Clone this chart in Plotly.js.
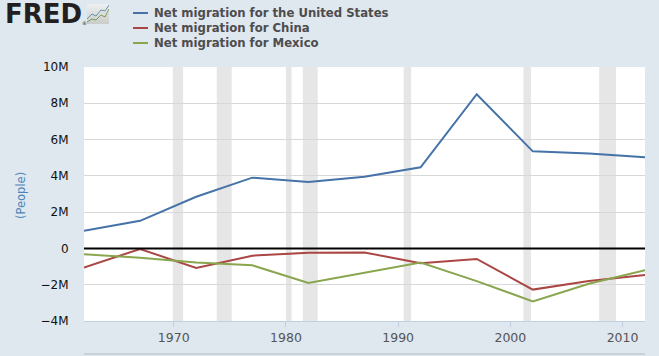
<!DOCTYPE html>
<html><head><meta charset="utf-8">
<script src="https://cdn.plot.ly/plotly-3.0.1.min.js"></script>
<style>html,body{margin:0;padding:0;background:#dfe7ef;overflow:hidden}</style>
</head><body><div id="chart" style="width:659px;height:356px"></div>
<script>
const years = ['1962-01-01','1967-01-01','1972-01-01','1977-01-01','1982-01-01','1987-01-01','1992-01-01','1997-01-01','2002-01-01','2007-01-01','2012-01-01'];
const usValues = [0.97,1.52,2.85,3.9,3.66,3.95,4.47,8.5,5.35,5.23,5.02];
const chinaValues = [-1.05,-0.03,-1.08,-0.4,-0.24,-0.22,-0.82,-0.58,-2.27,-1.8,-1.47];
const mexicoValues = [-0.32,-0.52,-0.78,-0.93,-1.9,-1.35,-0.78,-1.8,-2.92,-1.95,-1.2];
const seriesNames = ['Net migration for the United States','Net migration for China','Net migration for Mexico'];
const seriesColors = ['#4572a7','#aa4643','#89a54e'];
const recessions = [['1969-12-01','1970-11-01'],['1973-11-01','1975-03-01'],['1980-01-01','1980-07-01'],['1981-07-01','1982-11-01'],['1990-07-01','1991-03-01'],['2001-03-01','2001-11-01'],['2007-12-01','2009-06-01']];
const yTicks = [-4,-2,0,2,4,6,8,10];
const yLabels = ['−4M','−2M','0','2M','4M','6M','8M','10M'];
const xTicks = ['1970-01-01','1980-01-01','1990-01-01','2000-01-01','2010-01-01'];
const xLabels = ['1970','1980','1990','2000','2010'];

const font = 'Verdana, "DejaVu Sans", sans-serif';
const W = 659, H = 356, L = 84, R = 14, T = 67, B = 35;
const px = x => (x - L) / (W - L - R);
const py = y => 1 - (y - T) / (H - T - B);

const icon = 'data:image/svg+xml;utf8,' + encodeURIComponent('<svg xmlns="http://www.w3.org/2000/svg" width="22" height="20"><defs><linearGradient id="g" x1="0" y1="0" x2="0" y2="1"><stop offset="0" stop-color="#eef1f3"/><stop offset="1" stop-color="#c9ccc8"/></linearGradient></defs><rect width="22" height="20" fill="url(#g)"/><polyline points="0,15 5,10 9,12 14,6 18,7 22,1" fill="none" stroke="#6d8fa8" stroke-width="1"/><polyline points="0,18 5,15 9,16 14,11 18,13 22,5" fill="none" stroke="#7c9a55" stroke-width="1"/></svg>');

const traces = [usValues, chinaValues, mexicoValues].map((v,i)=>({
  x: years, y: v, type:'scatter', mode:'lines', name: seriesNames[i],
  line:{color:seriesColors[i], width:2}, hoverinfo:'skip'
}));

const shapes = recessions.map(r=>({type:'rect',xref:'x',yref:'paper',x0:r[0],x1:r[1],y0:0,y1:1,
  fillcolor:'#e6e6e6',line:{width:0},layer:'below'}));
shapes.push({type:'line',xref:'paper',yref:'y',x0:0,x1:1,y0:0,y1:0,line:{color:'#000000',width:2}});
shapes.push({type:'line',xref:'paper',yref:'paper',x0:0,x1:1,y0:py(354),y1:py(354),line:{color:'#b4bac2',width:1}});

const annotations = [
  {text:'<b>FRED</b>',xref:'paper',yref:'paper',x:px(3),y:py(14),xanchor:'left',yanchor:'middle',
    showarrow:false,font:{family:'"DejaVu Sans", sans-serif',size:26,color:'#231f20'}},
  {text:'®',xref:'paper',yref:'paper',x:px(84.5),y:py(23),xanchor:'center',yanchor:'middle',
    showarrow:false,font:{family:'"DejaVu Sans", sans-serif',size:5,color:'#231f20'}},
  {text:'(People)',xref:'paper',yref:'paper',x:px(21),y:py(196),textangle:-90,xanchor:'center',yanchor:'middle',
    showarrow:false,font:{family:font,size:11.5,color:'#4d85b8'}}
];
seriesNames.forEach((n,i)=>{
  const y = 13 + 15*i;
  shapes.push({type:'line',xref:'paper',yref:'paper',x0:px(133),x1:px(148),y0:py(y),y1:py(y),line:{color:seriesColors[i],width:2}});
  annotations.push({text:'<b>'+n+'</b>',xref:'paper',yref:'paper',x:px(152),y:py(y),xanchor:'left',yanchor:'middle',
    showarrow:false,font:{family:font,size:11.7,color:'#4d4d4d'}});
});

const layout = {
  width:W,height:H,
  margin:{l:L,r:R,t:T,b:B,autoexpand:false},
  paper_bgcolor:'#dfe7ef',plot_bgcolor:'#ffffff',
  font:{family:font,size:12,color:'#333333'},
  showlegend:false,
  xaxis:{type:'date',range:['1962-01-01','2012-01-01'],tickmode:'array',tickvals:xTicks,ticktext:xLabels,
    showgrid:false,zeroline:false,showline:true,linecolor:'#c0d0e0',linewidth:1,ticks:'outside',ticklen:5,tickcolor:'#c0d0e0',
    tickfont:{family:font,size:12.5,color:'#555555'}},
  yaxis:{range:[-4,10],tickmode:'array',tickvals:yTicks,ticktext:yLabels,
    showgrid:true,gridcolor:'#d8d8d8',gridwidth:1,zeroline:false,showline:false,
    ticks:'outside',ticklen:12,tickcolor:'rgba(0,0,0,0)',
    tickfont:{family:font,size:12,color:'#111111'}},
  shapes:shapes,
  images:[{source:icon,xref:'paper',yref:'paper',xanchor:'left',yanchor:'top',sizex:22/(W-L-R),sizey:20/(H-T-B),
    x:px(87),y:py(4),sizing:'stretch',layer:'above'}],
  annotations:annotations
};
Plotly.newPlot('chart',traces,layout,{displayModeBar:false,staticPlot:true});
</script></body></html>
